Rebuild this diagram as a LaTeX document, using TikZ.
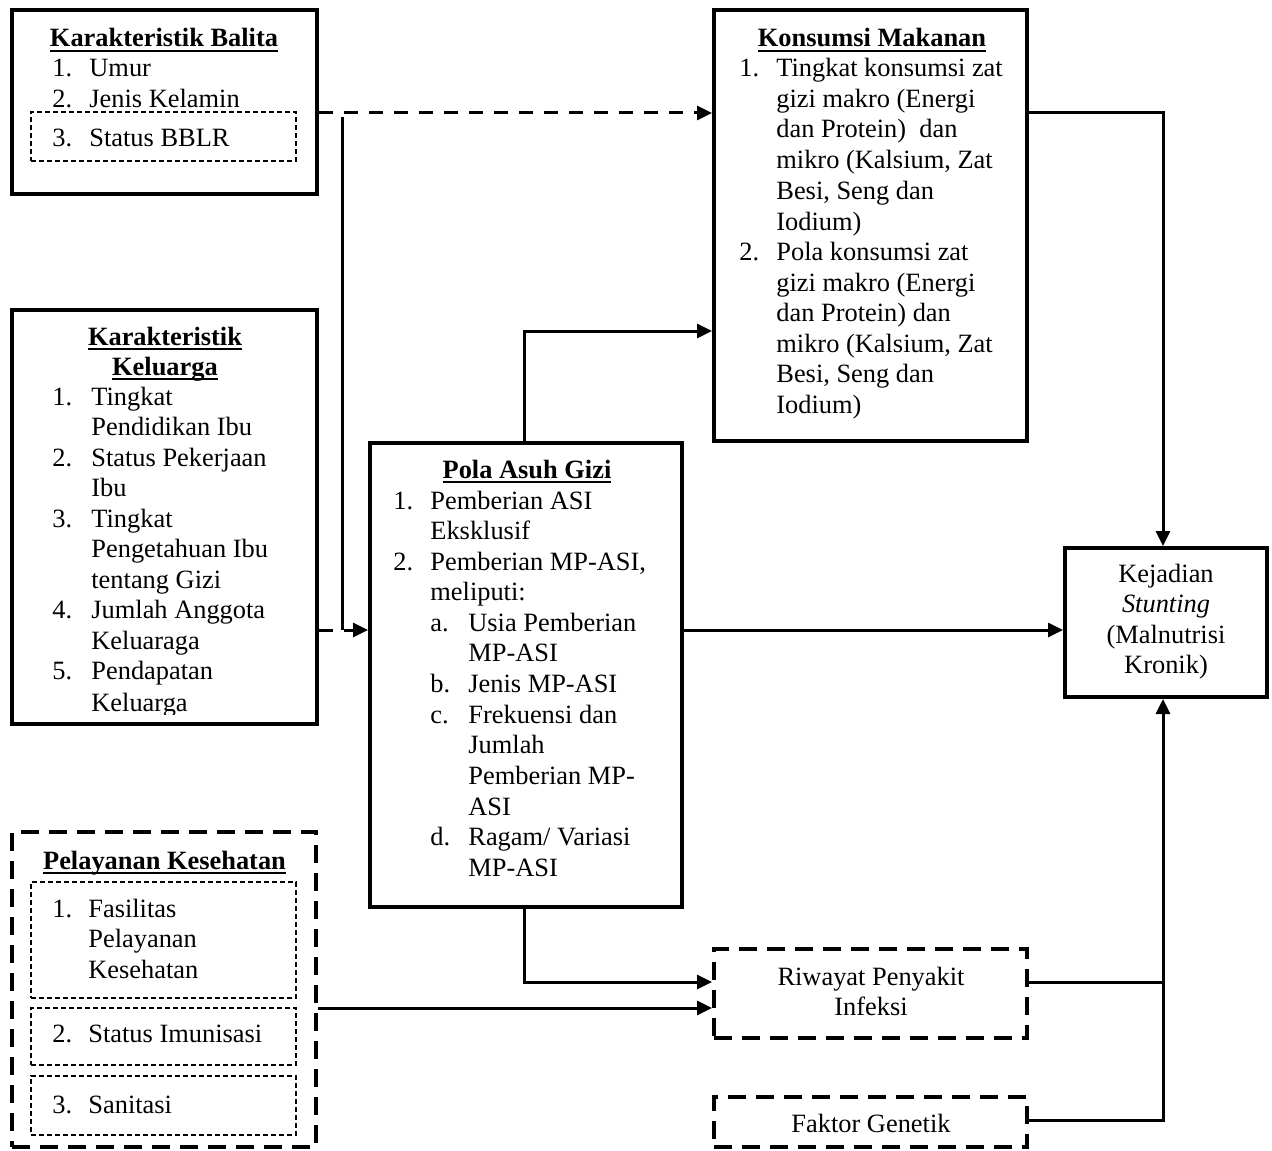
\documentclass[tikz,border=0pt]{standalone}
\usepackage{fontspec}
\setmainfont{Liberation Serif}
\usetikzlibrary{arrows.meta,fit}
\newcounter{tn}
\newcommand\TL[3]{\stepcounter{tn}\node[txt,anchor=base west] (tl\arabic{tn}) at (#1,#2) {#3};}
\newcommand\TC[3]{\stepcounter{tn}\node[txt,anchor=base] (tl\arabic{tn}) at (#1,#2) {#3};}
\newcommand\ulbf[1]{\setbox0\hbox{\bfseries #1}\rlap{\rule[-2.5pt]{\wd0}{1pt}}\box0}
\begin{document}
\begin{tikzpicture}[x=0.5pt,y=-0.5pt,
 txt/.style={inner sep=0pt, font=\fontsize{13.2}{15.3}\selectfont},
 sbox/.style={draw, line width=2pt, inner sep=0pt},
 dbox/.style={draw, line width=2pt, dash pattern=on 9pt off 5pt, inner sep=0pt},
 tbox/.style={draw, line width=0.6pt, dash pattern=on 2.5pt off 1.5pt, inner sep=0pt},
 conn/.style={line width=1.5pt},
 arr/.style={-{Triangle[length=7.5pt,width=7pt]}},
 dconn/.style={line width=1.5pt, dash pattern=on 7pt off 5.5pt}]
\useasboundingbox (0,0) rectangle (1272,1150);
\fill[white] (0,0) rectangle (1272,1150);

% boxes
\node[sbox, fit={(12,10) (317,194)}] (kb) {};
\node[tbox, fit={(31,112) (296,161)}] (kbin) {};
\node[sbox, fit={(12,310) (317,724)}] (kk) {};
\node[sbox, fit={(714,10) (1027,441)}] (km) {};
\node[sbox, fit={(370,443) (682,907)}] (pa) {};
\node[sbox, fit={(1065,548) (1267,697)}] (kj) {};
\node[dbox, fit={(12,832) (316,1147)}] (ps) {};
\node[tbox, fit={(31,882) (296,998)}] (ps1) {};
\node[tbox, fit={(31,1008) (296,1065)}] (ps2) {};
\node[tbox, fit={(31,1076) (296,1135)}] (ps3) {};
\node[dbox, fit={(714,949) (1027,1038)}] (rw) {};
\node[dbox, fit={(714,1097) (1027,1147)}] (fg) {};

% helper coordinates
\coordinate (y113) at (0,113);
\coordinate (y331) at (0,331);
\coordinate (y630) at (0,630);
\coordinate (y982) at (0,982);
\coordinate (y1008) at (0,1008);
\coordinate (y1120) at (0,1120);
\coordinate (xk) at (1163,0);
\coordinate (xp) at (524,0);
\coordinate (j1) at (342,117);
\coordinate (j2) at (342,630);

% connectors
\draw[dconn,arr] (kb.east |- y113) -- (km.west |- y113);
\draw[conn] (j1) -- (j2);
\draw[dconn,arr] (kk.east |- y630) -- (pa.west |- y630);
\draw[conn,arr] (pa.north -| xp) |- (km.west |- y331);
\draw[conn,arr] (pa.east |- y630) -- (kj.west |- y630);
\draw[conn,arr] (km.east |- y113) -| (kj.north -| xk);
\draw[conn,arr] (pa.south -| xp) |- (rw.west |- y982);
\draw[conn,arr] (ps.east |- y1008) -- (rw.west |- y1008);
\draw[conn] (rw.east |- y982) -- (xk |- y982);
\draw[conn,arr] (fg.east |- y1120) -| (kj.south -| xk);

% Karakteristik Balita
\TC{164}{47}{\ulbf{Karakteristik Balita}}
\TL{52}{77}{1.}\TL{89}{77}{Umur}
\TL{52}{108}{2.}\TL{89}{108}{Jenis Kelamin}
\TL{52}{147}{3.}\TL{89}{147}{Status BBLR}

% Karakteristik Keluarga
\TC{165}{345}{\ulbf{Karakteristik}}
\TC{165}{375}{\ulbf{Keluarga}}
\TL{52}{405}{1.}\TL{91}{405}{Tingkat}
\TL{91}{435.5}{Pendidikan Ibu}
\TL{52}{466}{2.}\TL{91}{466}{Status Pekerjaan}
\TL{91}{496.5}{Ibu}
\TL{52}{527}{3.}\TL{91}{527}{Tingkat}
\TL{91}{557.5}{Pengetahuan Ibu}
\TL{91}{588}{tentang Gizi}
\TL{52}{618.5}{4.}\TL{91}{618.5}{Jumlah Anggota}
\TL{91}{649}{Keluaraga}
\TL{52}{679.5}{5.}\TL{91}{679.5}{Pendapatan}
\begin{scope}
\clip (0,0) rectangle (1272,714);
\TL{91}{711}{Keluarga}
\end{scope}

% Konsumsi Makanan
\TC{872}{47}{\ulbf{Konsumsi Makanan}}
\TL{739}{77}{1.}\TL{776}{77}{Tingkat konsumsi zat}
\TL{776}{107.5}{gizi makro (Energi}
\TL{776}{138}{dan Protein)~ dan}
\TL{776}{168.5}{mikro (Kalsium, Zat}
\TL{776}{199}{Besi, Seng dan}
\TL{776}{230}{Iodium)}
\TL{739}{260}{2.}\TL{776}{260}{Pola konsumsi zat}
\TL{776}{291}{gizi makro (Energi}
\TL{776}{321}{dan Protein) dan}
\TL{776}{352}{mikro (Kalsium, Zat}
\TL{776}{382}{Besi, Seng dan}
\TL{776}{413}{Iodium)}

% Pola Asuh Gizi
\TC{527}{478}{\ulbf{Pola Asuh Gizi}}
\TL{393}{509}{1.}\TL{430}{509}{Pemberian ASI}
\TL{430}{539}{Eksklusif}
\TL{393}{570}{2.}\TL{430}{570}{Pemberian MP-ASI,}
\TL{430}{600.5}{meliputi:}
\TL{430}{631}{a.}\TL{468}{631}{Usia Pemberian}
\TL{468}{661.5}{MP-ASI}
\TL{430}{692.5}{b.}\TL{468}{692.5}{Jenis MP-ASI}
\TL{430}{723}{c.}\TL{468}{723}{Frekuensi dan}
\TL{468}{753.5}{Jumlah}
\TL{468}{784}{Pemberian MP-}
\TL{468}{815}{ASI}
\TL{430}{845.5}{d.}\TL{468}{845.5}{Ragam/ Variasi}
\TL{468}{876.5}{MP-ASI}

% Pelayanan Kesehatan
\TC{164.5}{869}{\ulbf{Pelayanan Kesehatan}}
\TL{52}{917}{1.}\TL{88}{917}{Fasilitas}
\TL{88}{947.5}{Pelayanan}
\TL{88}{978}{Kesehatan}
\TL{52}{1042}{2.}\TL{88}{1042}{Status Imunisasi}
\TL{52}{1113}{3.}\TL{88}{1113}{Sanitasi}

% Riwayat, Faktor Genetik
\TC{871}{985}{Riwayat Penyakit}
\TC{871}{1015.5}{Infeksi}
\TC{871}{1132}{Faktor Genetik}

% Kejadian
\TC{1166}{582}{Kejadian}
\TC{1166}{612.5}{\textit{Stunting}}
\TC{1166}{643}{(Malnutrisi}
\TC{1166}{673.5}{Kronik)}
\end{tikzpicture}
\end{document}
